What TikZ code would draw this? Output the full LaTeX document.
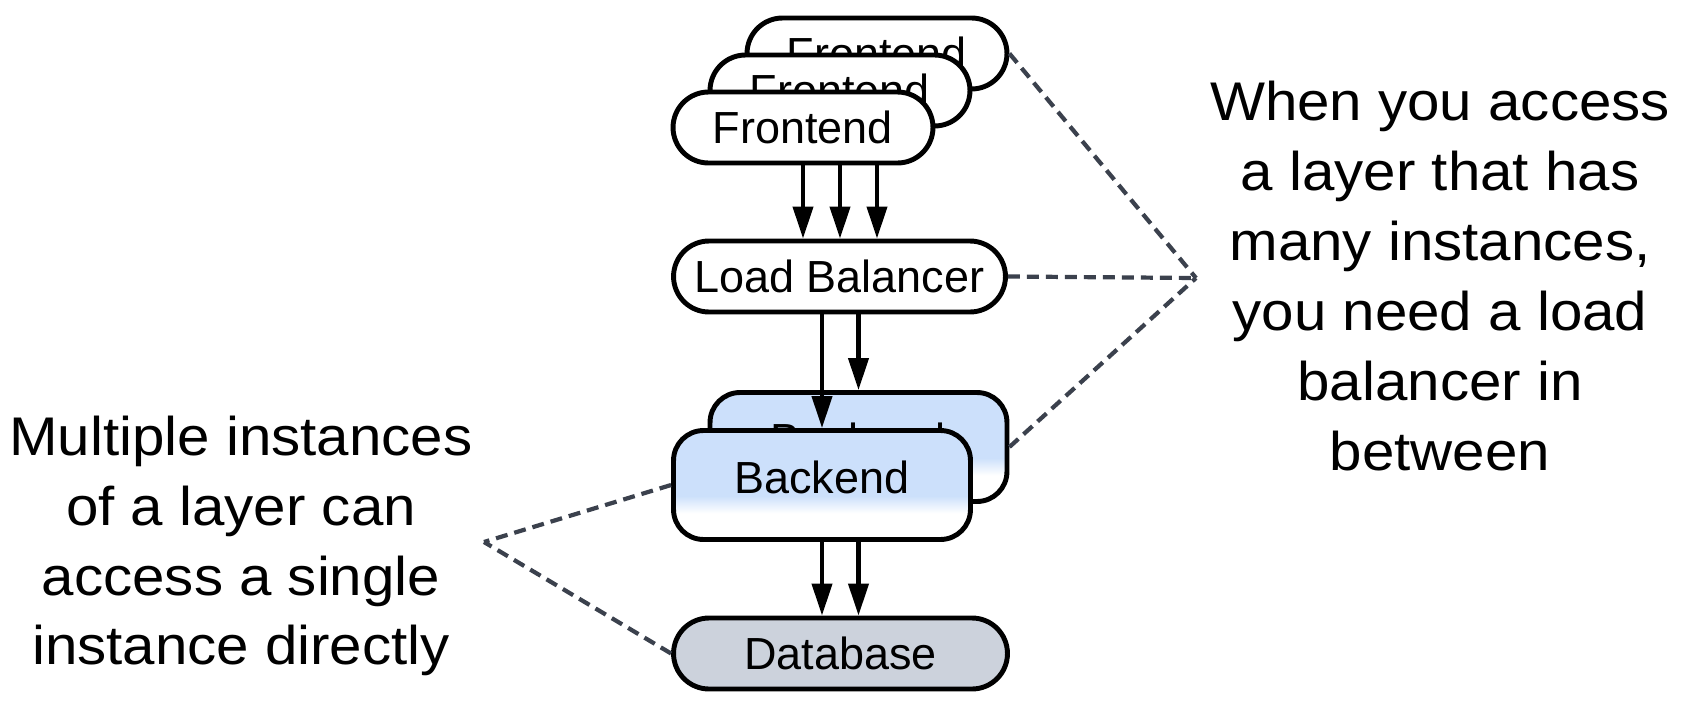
\documentclass[tikz,border=0pt]{standalone}
\usepackage{fontspec}
\setmainfont{Liberation Sans}
\newfontfamily\notefont[FakeStretch=1.07]{Liberation Sans}
\usepackage{xcolor}
\usepackage{tikz}
\usetikzlibrary{arrows.meta}
\usetikzlibrary{calc}
\usetikzlibrary{shapes.misc}
\definecolor{C0}{HTML}{CCE0FB}
\definecolor{C1}{HTML}{CCD2DC}
\definecolor{C2}{HTML}{3B414D}
\pgfdeclareverticalshading{fade}{100bp}{color(0bp)=(white); color(37bp)=(white); color(45bp)=(C0); color(100bp)=(C0)}
\tikzstyle{pill} = [draw, rounded rectangle, line width=2.8pt, minimum height=1.42cm, fill=white, inner sep=0pt, font=\fontsize{25.6pt}{30pt}\selectfont]
\tikzstyle{box} = [draw, rectangle, rounded corners=0.6cm, line width=2.8pt, minimum width=5.94cm, minimum height=2.18cm, shading=fade, inner sep=0pt, text depth=9pt, font=\fontsize{25.6pt}{30pt}\selectfont]
\tikzstyle{flow} = [-{Triangle[length=0.64cm, width=0.4cm]}, line width=2.3pt]
\tikzstyle{note} = [C2, line width=2.4pt, dash pattern=on 0.24cm off 0.14cm]
\tikzstyle{remark} = [align=center, font=\notefont\fontsize{31pt}{39.8pt}\selectfont]

\begin{document}
\begin{tikzpicture}[x=0.02cm, y=-0.02cm]
	\useasboundingbox (0, 0) rectangle (1684, 707) ;
	
	\foreach \n/\k in {3/2, 2/1, 1/0}
	{
		\node[pill, minimum width=5.2cm] (F\n) at ({803+37*\k}, {127.5-37*\k}) {Frontend} ;
	}
	\node[pill, minimum width=6.64cm] (LB) at (839.5, 276.5) {Load Balancer} ;
	
	\foreach \n in {1, 2, 3}
	{
		\draw[flow] (F1.south -| F\n.south) -- (LB.north -| F\n.south) ;
	}
	
	\node[box] (B2) at (858.5, 447) {Backend} ;
	\node[box] (B1) at (822, 485) {Backend} ;
	\node[pill, minimum width=6.68cm, fill=C1] (DB) at (840.5, 653.5) {Database} ;
	
	\draw[flow] (LB.south -| B1.north) -- (B1.north) ;
	\draw[flow] (LB.south -| B2.north) -- (B2.north) ;
	\draw[flow] (B1.south) -- (DB.north -| B1.south) ;
	\draw[flow] (B1.south -| B2.south) -- (DB.north -| B2.south) ;
	
	
	\coordinate (R) at (1196, 278) ;
	\coordinate (L) at (484, 542) ;
	\foreach \cooname in {F3, LB, B2}
	{
		\draw[note] (\cooname.east) -- (R) ;
	}
	\foreach \cooname in {B1, DB}
	{
		\draw[note] (\cooname.west) -- (L) ;
	}
	
	\node[remark] (T1) at (1440, 276) {When you access\\a layer that has\\many instances,\\you need a load\\balancer in\\between} ;
	\node[remark] (T2) at (241, 546) {Multiple instances\\of a layer can\\access a single\\instance directly} ;
\end{tikzpicture}
\end{document}
